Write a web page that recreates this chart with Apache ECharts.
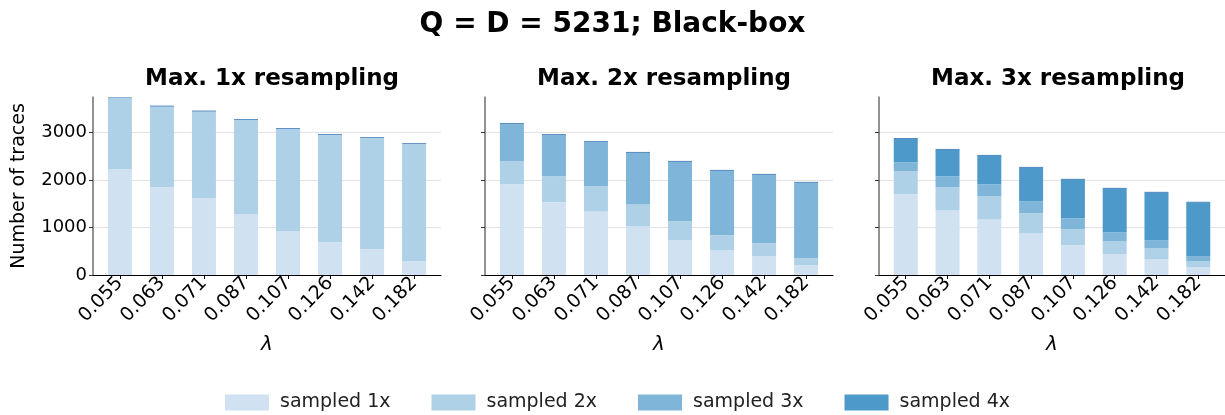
<!DOCTYPE html>
<html>
<head>
<meta charset="utf-8">
<script src="https://cdn.jsdelivr.net/npm/echarts@6/dist/echarts.min.js"></script>
<style>html,body{margin:0;padding:0;background:#fff}#c{width:1225px;height:415px}</style>
</head>
<body>
<div id="c"></div>
<script>
const lambdas = ['0.055','0.063','0.071','0.087','0.107','0.126','0.142','0.182'];
const panelTitles = ['Max. 1x resampling','Max. 2x resampling','Max. 3x resampling'];
const seriesNames = ['sampled 1x','sampled 2x','sampled 3x','sampled 4x'];
const yTicks = [0, 1000, 2000, 3000];

// panel 1 (max 1x resampling)
const p1_s1 = [2225,1847,1617,1281,924,693,546,294];
const p1_s2 = [1512,1701,1826,1987,2155,2260,2344,2470];
// panel 2 (max 2x resampling)
const p2_s1 = [1910,1533,1344,1029,735,525,399,210];
const p2_s2 = [483,545,524,462,399,315,273,147];
const p2_s3 = [791,875,938,1084,1252,1357,1441,1588];
// panel 3 (max 3x resampling)
const p3_s1 = [1700,1365,1176,882,630,441,336,168];
const p3_s2 = [483,482,483,420,336,273,231,126];
const p3_s3 = [189,231,251,252,231,189,168,105];
const p3_s4 = [497,560,602,706,811,916,1000,1127];
// thin dark cap on top of every bar
const capValue = [14,14,14,14,14,14,14,14];

const panels = [[p1_s1,p1_s2],[p2_s1,p2_s2,p2_s3],[p3_s1,p3_s2,p3_s3,p3_s4]];
const colors = ['#d0e1f2','#afd1e7','#7fb5d9','#4c99ca'];
const capColor = '#1d5ea8';

const FONT = 'DejaVu Sans';
const lefts = [93, 485, 879];
const W = 348, TOP = 97, H = 178;
const YMAX = 3745;
const idx = [0,1,2,3,4,5,6,7];

const grids = [], xAxes = [], yAxes = [], series = [], titles = [];
titles.push({text:'Q = D = 5231; Black-box', left:'center', top:6,
  textStyle:{fontFamily:FONT,fontSize:28,fontWeight:'bold',color:'#000'}});
panels.forEach((p, gi) => {
  grids.push({left:lefts[gi], top:TOP, width:W, height:H});
  titles.push({text:panelTitles[gi], left:lefts[gi]+W/2, top:63, textAlign:'center',
    textStyle:{fontFamily:FONT,fontSize:23,fontWeight:'bold',color:'#000'}});
  xAxes.push({type:'value', gridIndex:gi, min:-0.64, max:7.64,
    name:'λ', nameLocation:'middle', nameGap:60,
    nameTextStyle:{fontFamily:FONT,fontSize:20,fontStyle:'italic',color:'#000'},
    splitLine:{show:false},
    axisLine:{show:true,onZero:false,lineStyle:{color:'#000',width:1.2}},
    axisTick:{show:true,length:4,customValues:idx,lineStyle:{color:'#000'}},
    axisLabel:{customValues:idx, rotate:46, margin:5, hideOverlap:false,
      fontFamily:FONT,fontSize:19,color:'#000',
      formatter:v=>lambdas[Math.round(v)]}});
  yAxes.push({type:'value', gridIndex:gi, min:0, max:YMAX,
    name: gi===0 ? 'Number of traces' : '', nameLocation:'middle', nameGap:64,
    nameTextStyle:{fontFamily:FONT,fontSize:19,color:'#000'},
    axisLine:{show:true,onZero:false,lineStyle:{color:'#6e6e6e',width:1.5}},
    axisTick:{show:true,length:4,customValues:yTicks,lineStyle:{color:'#333'}},
    axisLabel:{show:gi===0,customValues:yTicks,fontFamily:FONT,fontSize:18,color:'#000',margin:6,
      formatter:v=>String(v)},
    splitLine:{show:true,lineStyle:{color:'#e3e3e3',width:1}}});
  p.forEach((arr, si) => {
    series.push({type:'bar', name:seriesNames[si], xAxisIndex:gi, yAxisIndex:gi,
      stack:'s'+gi, barWidth:24, itemStyle:{color:colors[si]},
      encode:{x:1, y:0},
      data:arr.map((v,i)=>[v,i]), silent:true});
  });
  series.push({type:'bar', name:'cap', xAxisIndex:gi, yAxisIndex:gi,
    stack:'s'+gi, barWidth:24, itemStyle:{color:capColor},
    encode:{x:1, y:0},
    data:capValue.map((v,i)=>[v,i]), silent:true});
});

const chart = echarts.init(document.getElementById('c'), null, {renderer:'canvas'});
chart.setOption({
  animation:false,
  backgroundColor:'#fff',
  title:titles,
  grid:grids,
  xAxis:xAxes,
  yAxis:yAxes,
  legend:{data:seriesNames, top:388, left:220, itemWidth:44, itemHeight:16, itemGap:41,
    icon:'rect', textStyle:{fontFamily:FONT,fontSize:19,color:'#222',padding:[0,0,0,6]}},
  series:series
});
</script>
</body>
</html>
